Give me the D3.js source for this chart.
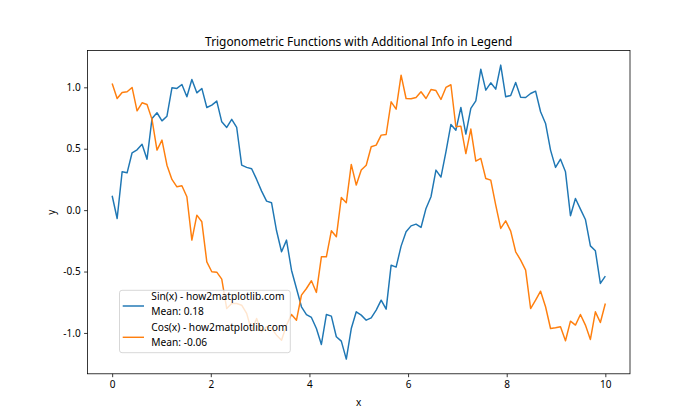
<!DOCTYPE html>
<html>
<head>
<meta charset="utf-8">
<script src="https://cdn.jsdelivr.net/npm/d3@7"></script>
<style>
  body { margin: 0; background: #fff; }
  text { font-family: "Noto Sans", "Open Sans", sans-serif; fill: #000; }
</style>
</head>
<body>
<svg id="chart" width="700" height="420"></svg>
<script>
// ---- data ----
const xValues = d3.range(100).map(i => i * 10 / 99); // linspace(0, 10, 100)
const sinValues = [
  0.117, -0.068, 0.312, 0.304, 0.467, 0.491, 0.537, 0.415, 0.746, 0.793,
  0.727, 0.765, 0.996, 0.991, 1.023, 0.923, 1.064, 0.955, 0.991, 0.836,
  0.855, 0.888, 0.719, 0.673, 0.739, 0.673, 0.366, 0.348, 0.337, 0.250,
  0.155, 0.073, 0.060, -0.168, -0.339, -0.244, -0.489, -0.638, -0.787, -0.850,
  -0.874, -0.964, -1.094, -0.850, -0.863, -1.031, -1.067, -1.213, -0.964, -0.828,
  -0.855, -0.896, -0.877, -0.814, -0.733, -0.806, -0.448, -0.464, -0.293, -0.176,
  -0.128, -0.114, -0.141, 0.014, 0.109, 0.326, 0.269, 0.475, 0.698, 0.651,
  0.836, 0.619, 0.828, 0.890, 1.148, 0.977, 1.037, 0.985, 1.181, 0.923,
  0.934, 1.040, 0.920, 0.917, 0.950, 0.969, 0.801, 0.706, 0.489, 0.348,
  0.415, 0.312, -0.046, 0.095, 0.008, -0.076, -0.291, -0.331, -0.597, -0.537
];
const cosValues = [
  1.031, 0.909, 0.958, 0.964, 0.999, 0.809, 0.874, 0.860, 0.739, 0.489,
  0.570, 0.366, 0.250, 0.190, 0.198, 0.109, -0.244, -0.041, -0.095, -0.421,
  -0.502, -0.505, -0.562, -0.801, -0.760, -0.760, -0.774, -0.841, -0.985, -0.882,
  -0.991, -0.950, -0.964, -1.018, -1.059, -0.936, -0.850, -0.896, -0.692, -0.638,
  -0.575, -0.670, -0.380, -0.380, -0.168, -0.217, 0.103, 0.060, 0.372, 0.204,
  0.326, 0.366, 0.516, 0.529, 0.611, 0.616, 0.882, 0.822, 1.099, 0.909,
  0.907, 0.917, 0.964, 0.909, 0.982, 0.974, 0.901, 0.999, 1.021, 0.679,
  0.684, 0.461, 0.660, 0.399, 0.421, 0.258, 0.244, 0.041, -0.149, -0.087,
  -0.171, -0.339, -0.407, -0.489, -0.801, -0.733, -0.660, -0.787, -0.964, -0.958,
  -0.950, -1.064, -0.904, -0.936, -0.850, -0.936, -1.053, -0.828, -0.915, -0.760
];
const xTicks = [0, 2, 4, 6, 8, 10];
const yTicks = [-1.0, -0.5, 0.0, 0.5, 1.0];
const seriesLabels = ["Sin(x) - how2matplotlib.com", "Cos(x) - how2matplotlib.com"];
const meanLabels = ["Mean: 0.18", "Mean: -0.06"];
const colors = ["#1f77b4", "#ff7f0e"];
const title = "Trigonometric Functions with Additional Info in Legend";

// ---- layout ----
const L = 87.5, R = 630, T = 50.4, B = 373.8;
const svg = d3.select("#chart");

const xPad = (10 - 0) * 0.05;
const x = d3.scaleLinear().domain([0 - xPad, 10 + xPad]).range([L, R]);
const all = sinValues.concat(cosValues);
const yMin = d3.min(all), yMax = d3.max(all), yPad = (yMax - yMin) * 0.05;
const y = d3.scaleLinear().domain([yMin - yPad, yMax + yPad]).range([B, T]);

// lines
const series = [sinValues, cosValues];
const line = d3.line().x((d, i) => x(xValues[i])).y(d => y(d));
series.forEach((s, k) => {
  svg.append("path").datum(s)
    .attr("d", line)
    .attr("fill", "none")
    .attr("stroke", colors[k])
    .attr("stroke-width", 1.46)
    .attr("stroke-linejoin", "round")
    .attr("stroke-linecap", "butt");
});

// axes
const fs = 10;
const xAxis = d3.axisBottom(x).tickValues(xTicks).tickFormat(d3.format("d")).tickSize(3.4).tickPadding(3.4);
const yAxis = d3.axisLeft(y).tickValues(yTicks).tickFormat(d => d.toFixed(1)).tickSize(3.4).tickPadding(3.4);
const gx = svg.append("g").attr("transform", `translate(0,${B})`).call(xAxis);
const gy = svg.append("g").attr("transform", `translate(${L},0)`).call(yAxis);
[gx, gy].forEach(g => {
  g.select(".domain").remove();
  g.selectAll(".tick line").attr("stroke", "#000").attr("stroke-width", 0.78);
  g.selectAll(".tick text").attr("font-size", fs).attr("fill", "#000")
    .style("font-family", '"Noto Sans", "Open Sans", sans-serif');
});

// frame
svg.append("rect").attr("x", L).attr("y", T).attr("width", R - L).attr("height", B - T)
  .attr("fill", "none").attr("stroke", "#000").attr("stroke-width", 0.78);

// labels
svg.append("text").attr("x", (L + R) / 2).attr("y", 45.5).attr("text-anchor", "middle")
  .attr("font-size", 11.9).text(title);
svg.append("text").attr("x", (L + R) / 2).attr("y", 405.5).attr("text-anchor", "middle")
  .attr("font-size", fs).text("x");
svg.append("text").attr("transform", `translate(55,${(T + B) / 2}) rotate(-90)`)
  .attr("text-anchor", "middle").attr("font-size", fs).text("y");

// legend
const lg = svg.append("g");
lg.append("rect").attr("x", 119.5).attr("y", 290.3).attr("width", 170.8).attr("height", 62.4)
  .attr("rx", 2.5).attr("fill", "rgba(255,255,255,0.8)").attr("stroke", "#cccccc").attr("stroke-width", 0.78);
const rowY = [306, 337.3];
const base = [[299.8, 314.8], [331.3, 346.3]];
series.forEach((s, k) => {
  lg.append("line").attr("x1", 122.7).attr("x2", 144).attr("y1", rowY[k]).attr("y2", rowY[k])
    .attr("stroke", colors[k]).attr("stroke-width", 1.46);
  lg.append("text").attr("x", 151.3).attr("y", base[k][0]).attr("font-size", 10.2).text(seriesLabels[k]);
  lg.append("text").attr("x", 151.3).attr("y", base[k][1]).attr("font-size", 10.2).text(meanLabels[k]);
});
</script>
</body>
</html>
